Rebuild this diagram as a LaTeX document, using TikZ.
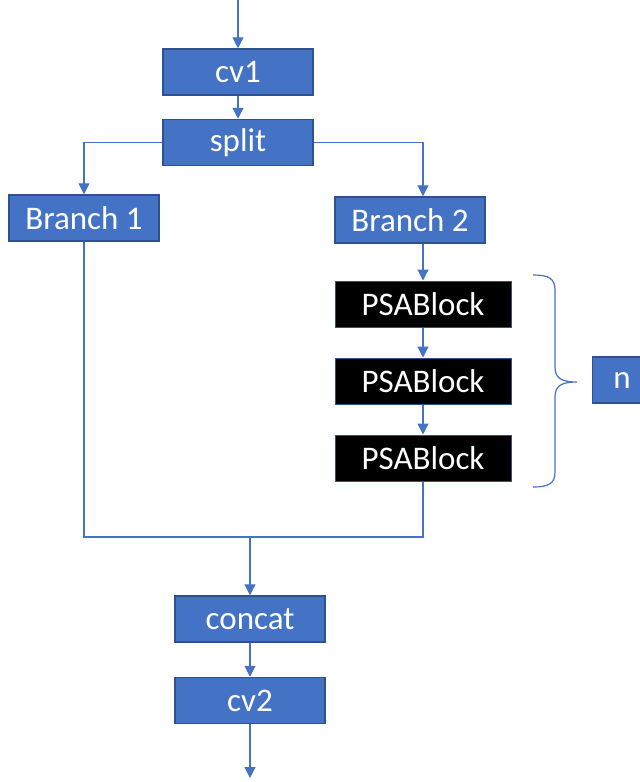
\documentclass[tikz,border=0pt]{standalone}
\usepackage{fontspec}
\setmainfont{Carlito}
\usetikzlibrary{positioning,arrows.meta}
\definecolor{officeblue}{HTML}{4472C4}
\definecolor{officeedge}{HTML}{2F528F}

\begin{document}
\begin{tikzpicture}[%
    x=1pt, y=-1pt,
    >={Triangle[width=11pt,length=11pt]},
    node distance=.1cm,
    link/.style={%
      ->,
      draw=officeblue,
      line width=1.2pt},
    wire/.style={%
      draw=officeblue,
      line width=1.2pt},
    blk/.style={%
      rectangle,
      fill=officeblue,
      draw=officeedge,
      line width=1.5pt,
      text=white,
      font=\fontsize{33}{38}\selectfont,
      minimum width=150pt,
      minimum height=46pt,
      inner sep=0pt},
    psa/.style={%
      blk,
      fill=black,
      line width=1pt,
      minimum width=176pt}
    ]
    \useasboundingbox (0,0) rectangle (640,782);
    \node[blk] (cv1) at (238,72) {cv1};
    \node[blk] (split) [node distance=23pt,below=of cv1] {split};
    \node[blk] (b1) at (84,218) {Branch 1};
    \node[blk] (b2) at (410,220) {Branch 2};
    \node[psa] (p1) at (423,304) {PSABlock};
    \node[psa] (p2) [node distance=30pt,below=of p1] {PSABlock};
    \node[psa] (p3) [node distance=30pt,below=of p2] {PSABlock};
    \node[blk] (n) [minimum width=59pt] at (622,380) {n};
    \node[blk] (concat) at (250,619) {concat};
    \node[blk] (cv2) [node distance=34pt,below=of concat] {cv2};
    \coordinate (in) at (238,0);
    \coordinate (merge) at (250,537);
    \coordinate (out) at (250,778);
    \draw[link] (in) -- (cv1.north);
    \draw[link] (cv1) -- (split);
    \draw[link] (split.west) -| (b1.north);
    \draw[link] (split.east) -| (b2.north -| p1.north);
    \draw[link] (b2.south -| p1.north) -- (p1.north);
    \draw[link] (p1) -- (p2);
    \draw[link] (p2) -- (p3);
    \draw[wire] (b1.south) |- (p3.south |- merge) -- (p3.south);
    \draw[link] (merge) -- (concat.north);
    \draw[link] (concat) -- (cv2);
    \draw[link] (cv2.south) -- (out);
    % brace
    \draw[wire] (533,275) .. controls (548,275) and (555,278) .. (555,290)
      -- (555,367) .. controls (555,378) and (561,382) .. (577,382)
      .. controls (561,382) and (555,386) .. (555,397)
      -- (555,472) .. controls (555,484) and (548,487) .. (533,487);
  \end{tikzpicture}
\end{document}
